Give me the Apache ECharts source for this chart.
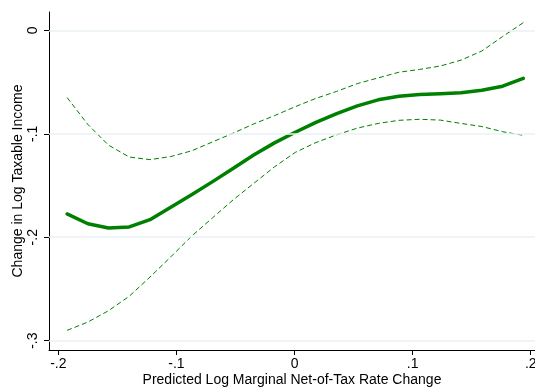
<!DOCTYPE html>
<html>
<head>
<meta charset="utf-8">
<script src="https://cdn.jsdelivr.net/npm/echarts@6/dist/echarts.min.js"></script>
<style>
  html, body { margin: 0; padding: 0; background: #fff; }
  #chart { width: 535px; height: 388px; }
</style>
</head>
<body>
<div id="chart"></div>
<script>
// Predicted log marginal net-of-tax rate change (evaluation points)
var xPoints = [-0.1926, -0.1750, -0.1575, -0.1399, -0.1224, -0.1048, -0.0872, -0.0697,
  -0.0521, -0.0346, -0.0170, 0.0006, 0.0181, 0.0357, 0.0532, 0.0708, 0.0884, 0.1059,
  0.1235, 0.1410, 0.1586, 0.1762, 0.1937];

// Estimated change in log taxable income
var fitted = [-0.1775, -0.1870, -0.1910, -0.1900, -0.1830, -0.1710, -0.1590, -0.1465,
  -0.1335, -0.1205, -0.1088, -0.0985, -0.0890, -0.0805, -0.0730, -0.0672, -0.0637, -0.0621,
  -0.0612, -0.0603, -0.0580, -0.0540, -0.0465];

// Upper and lower confidence bounds
var upperBand = [-0.0650, -0.0910, -0.1110, -0.1225, -0.1250, -0.1220, -0.1165, -0.1080,
  -0.0995, -0.0905, -0.0825, -0.0738, -0.0658, -0.0590, -0.0515, -0.0460, -0.0405, -0.0378,
  -0.0345, -0.0288, -0.0200, -0.0060, 0.0074];
var lowerBand = [-0.2900, -0.2820, -0.2710, -0.2570, -0.2385, -0.2190, -0.1990, -0.1815,
  -0.1640, -0.1480, -0.1320, -0.1180, -0.1085, -0.1010, -0.0945, -0.0900, -0.0870, -0.0860,
  -0.0868, -0.0900, -0.0930, -0.0980, -0.1015];

// Axis ticks and their labels
var xTickValues = [-0.2, -0.1, 0, 0.1, 0.2];
var xTickLabels = ['-.2', '-.1', '0', '.1', '.2'];
var yTickValues = [-0.3, -0.2, -0.1, 0];
var yTickLabels = ['-.3', '-.2', '-.1', '0'];

function pairs(xs, ys) {
  return xs.map(function (x, i) { return [x, ys[i]]; });
}
function labelFor(values, labels) {
  return function (v) {
    for (var i = 0; i < values.length; i++) {
      if (Math.abs(values[i] - v) < 1e-9) return labels[i];
    }
    return '';
  };
}

var FONT = 'Liberation Sans, Arial, Helvetica, sans-serif';
var GREEN = '#008000';

var chart = echarts.init(document.getElementById('chart'), null, { renderer: 'canvas' });
chart.setOption({
  animation: false,
  backgroundColor: '#ffffff',
  grid: { left: 49, right: 0, top: 12, bottom: 38, containLabel: false, outerBoundsMode: 'none' },
  xAxis: {
    type: 'value',
    min: -0.2079,
    max: 0.2036,
    name: 'Predicted Log Marginal Net-of-Tax Rate Change',
    nameLocation: 'middle',
    nameGap: 23,
    nameMoveOverlap: false,
    nameTextStyle: { fontFamily: FONT, fontSize: 14, color: '#000', verticalAlign: 'top' },
    axisLine: { show: true, onZero: false, lineStyle: { color: '#000', width: 1 } },
    axisTick: { show: true, length: 5, customValues: xTickValues, lineStyle: { color: '#000' } },
    axisLabel: {
      customValues: xTickValues,
      formatter: labelFor(xTickValues, xTickLabels),
      fontFamily: FONT, fontSize: 14, color: '#000', margin: 7
    },
    splitLine: { show: false }
  },
  yAxis: {
    type: 'value',
    min: -0.309,
    max: 0.0177,
    name: 'Change in Log Taxable Income',
    nameLocation: 'middle',
    nameRotate: 90,
    nameGap: 24,
    nameMoveOverlap: false,
    nameTextStyle: { fontFamily: FONT, fontSize: 14, color: '#000' },
    axisLine: { show: true, onZero: false, lineStyle: { color: '#000', width: 1 } },
    axisTick: { show: true, length: 5, customValues: yTickValues, lineStyle: { color: '#000' } },
    axisLabel: {
      customValues: yTickValues,
      formatter: labelFor(yTickValues, yTickLabels),
      rotate: 90,
      fontFamily: FONT, fontSize: 14, color: '#000', margin: 9
    },
    splitLine: { show: false }
  },
  series: [
    {
      // horizontal reference lines at each labelled y tick
      type: 'line',
      data: [],
      z: 1,
      silent: true,
      markLine: {
        silent: true,
        symbol: 'none',
        label: { show: false },
        lineStyle: { type: 'solid', color: '#eaf2f3', width: 1.5 },
        data: yTickValues.map(function (v) { return { yAxis: v }; })
      }
    },
    {
      name: 'Upper bound',
      type: 'line',
      data: pairs(xPoints, upperBand),
      showSymbol: false,
      smooth: false,
      z: 3,
      lineStyle: { color: GREEN, width: 1, type: [5, 3] }
    },
    {
      name: 'Lower bound',
      type: 'line',
      data: pairs(xPoints, lowerBand),
      showSymbol: false,
      smooth: false,
      z: 3,
      lineStyle: { color: GREEN, width: 1, type: [5, 3] }
    },
    {
      name: 'Fitted',
      type: 'line',
      data: pairs(xPoints, fitted),
      showSymbol: false,
      smooth: false,
      z: 4,
      lineStyle: { color: GREEN, width: 3.5, cap: 'round', join: 'round' }
    }
  ]
});
</script>
</body>
</html>
